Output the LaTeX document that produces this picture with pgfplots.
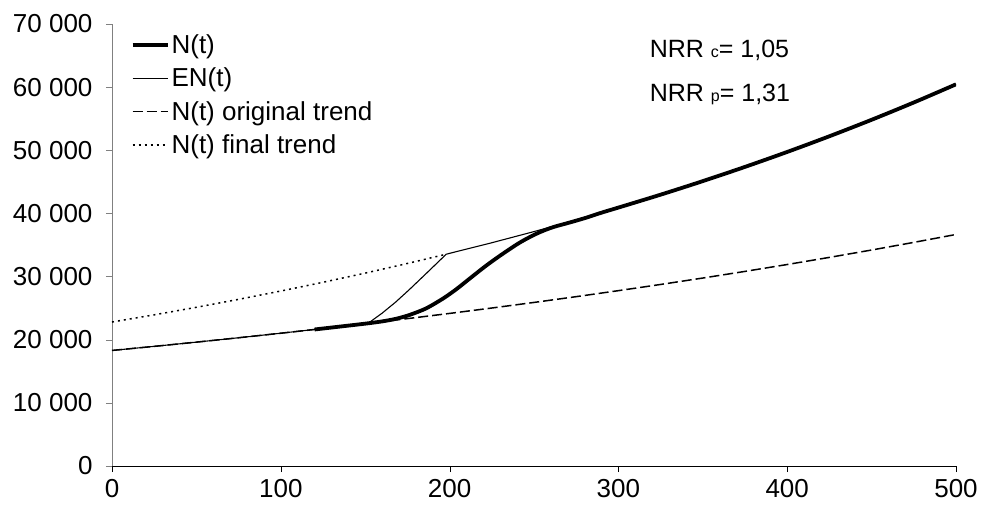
\documentclass[border=0pt]{standalone}
\usepackage{fontspec}
\setmainfont{Liberation Sans}
\usepackage{pgfplots}
\pgfplotsset{compat=1.18}
\begin{document}
\begin{tikzpicture}
\begin{axis}[
  scale only axis,
  width=844pt, height=442pt,
  xmin=0, xmax=500, ymin=0, ymax=70000,
  axis x line=bottom, axis y line=left,
  axis line style={-},
  y axis line style={gray},
  xtick={0,100,...,500},
  ytick={0,10000,...,70000},
  tick align=outside,
  major tick length=6pt,
  ytick style={gray},
  xtick style={black},
  scaled y ticks=false,
  /pgf/number format/assume math mode=true,
  yticklabel style={xshift=-10pt, /pgf/number format/fixed, /pgf/number format/1000 sep={\ }, /pgf/number format/min exponent for 1000 sep=4},
  xticklabel style={yshift=-4pt},
  tick label style={font=\fontsize{26}{30}\selectfont, black},
  legend style={draw=none, fill=none, at={(0.022,0.981)}, anchor=north west,
    font=\fontsize{26}{30}\selectfont, row sep=9pt, inner sep=0pt},
  legend cell align=left,
  legend image code/.code={\draw[#1] (0pt,0pt) -- (35pt,0pt);},
]
\addplot[black, line width=3.8pt, smooth] coordinates {
(120,21622) (135,22080) (150,22543) (160,22900) (168,23300) (176,23900)
(186,24950) (196,26500) (204,28000) (212,29700) (222,31800) (232,33700)
(242,35450) (252,36850) (261,37800) (271,38550) (281,39330) (290,40120)
(300,40926) (325,42970) (350,45117) (375,47371) (400,49738) (425,52222)
(450,54831) (475,57570) (500,60446)};
\addlegendentry{N(t)}
\addplot[black, line width=1.1pt] coordinates {
(0,18300) (25,18947) (50,19617) (75,20311) (100,21029) (125,21773)
(152,22650) (160,24200) (168,25950) (176,27900) (186,30450) (198,33543)
(225,35358) (250,37124) (275,38978) (300,40926) (325,42970) (350,45117)
(375,47371) (400,49738) (425,52222) (450,54831) (475,57570) (500,60446)};
\addlegendentry{EN(t)}
\addplot[black, line width=1.5pt, dash pattern=on 10pt off 4pt] coordinates {
(0,18300) (25,18947) (50,19617) (75,20311) (100,21029) (125,21773)
(150,22543) (175,23340) (200,24165) (225,25020) (250,25904) (275,26820)
(300,27769) (325,28751) (350,29767) (375,30820) (400,31910) (425,33038)
(450,34206) (475,35416) (500,36668)};
\addlegendentry{N(t) original trend}
\addplot[black, line width=1.5pt, dash pattern=on 2pt off 4pt] coordinates {
(0,22800) (25,23939) (50,25135) (75,26391) (100,27709) (125,29093)
(150,30547) (175,32073) (198,33543)};
\addlegendentry{N(t) final trend}
\node[anchor=base west, font=\fontsize{25}{30}\selectfont, inner sep=0pt] at (rel axis cs:0.637,0.925) {NRR {\fontsize{16}{18}\selectfont c}= 1,05};
\node[anchor=base west, font=\fontsize{25}{30}\selectfont, inner sep=0pt] at (rel axis cs:0.637,0.825) {NRR {\fontsize{16}{18}\selectfont p}= 1,31};
\end{axis}
\path ([xshift=-112pt,yshift=-51pt]current axis.south west) rectangle ([xshift=26pt,yshift=24pt]current axis.north east);
\end{tikzpicture}
\end{document}
